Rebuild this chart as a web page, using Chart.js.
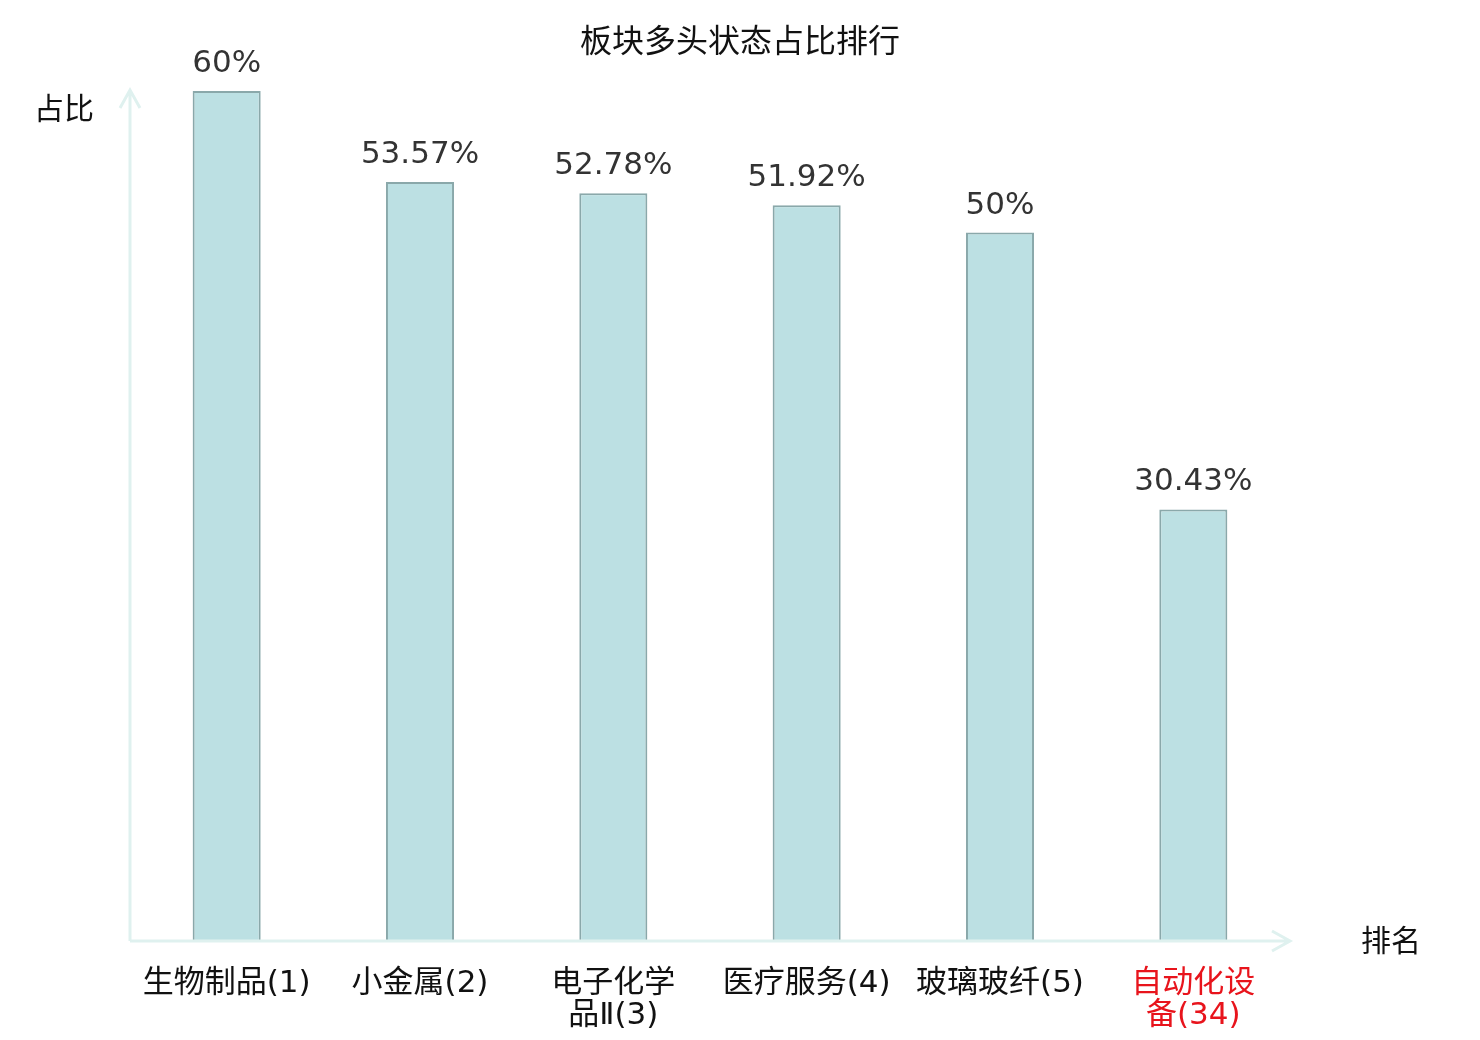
<!DOCTYPE html>
<html>
<head>
<meta charset="utf-8">
<script src="https://cdn.jsdelivr.net/npm/chart.js@4/dist/chart.umd.min.js"></script>
<style>
  body { margin: 0; background: #fff; }
  canvas { display: block; }
</style>
</head>
<body>
<canvas id="rankChart" width="1480" height="1040"></canvas>
<script>
const CATEGORIES = ['生物制品(1)', '小金属(2)', '电子化学品Ⅱ(3)', '医疗服务(4)', '玻璃玻纤(5)', '自动化设备(34)'];
const SHARE = [60, 53.57, 52.78, 51.92, 50, 30.43];
const HIGHLIGHT = ['自动化设备(34)'];

const FONT = "'DejaVu Sans', 'Noto Sans CJK SC', sans-serif";
const AXIS_COLOR = '#dff1ef';

// long names wrap after 4 chars like the original
const wrap = s => s.length > 8 ? [s.slice(0, 4), s.slice(4)] : s;

const decorations = {
  id: 'decorations',
  afterDatasetsDraw(chart) {
    const { ctx, chartArea: a } = chart;
    ctx.save();

    // axes with arrow heads
    ctx.strokeStyle = AXIS_COLOR;
    ctx.lineWidth = 3;
    ctx.beginPath();
    ctx.moveTo(a.left, a.bottom + 1);
    ctx.lineTo(a.left, a.top - 1);
    ctx.moveTo(a.left - 10, a.top + 17);
    ctx.lineTo(a.left, a.top - 1);
    ctx.lineTo(a.left + 10, a.top + 17);
    ctx.moveTo(a.left, a.bottom + 1);
    ctx.lineTo(a.right, a.bottom + 1);
    ctx.moveTo(a.right - 18, a.bottom - 9);
    ctx.lineTo(a.right, a.bottom + 1);
    ctx.lineTo(a.right - 18, a.bottom + 11);
    ctx.stroke();

    // value labels
    ctx.fillStyle = '#333';
    ctx.font = '31px ' + FONT;
    ctx.textAlign = 'center';
    ctx.textBaseline = 'alphabetic';
    chart.getDatasetMeta(0).data.forEach((bar, i) => {
      ctx.fillText(SHARE[i] + '%', bar.x, bar.y - 19);
    });

    // title and axis names
    ctx.fillStyle = '#111';
    ctx.textBaseline = 'middle';
    ctx.font = '32px ' + FONT;
    ctx.fillText('板块多头状态占比排行', 740, 44);
    ctx.font = '30px ' + FONT;
    ctx.textAlign = 'left';
    ctx.fillText('占比', 34, 111);
    ctx.fillText('排名', 1361, 943);
    ctx.restore();
  }
};

new Chart(document.getElementById('rankChart'), {
  type: 'bar',
  data: {
    labels: CATEGORIES.map(wrap),
    datasets: [{
      data: SHARE,
      backgroundColor: '#bce0e3',
      borderColor: '#8aa8aa',
      borderWidth: 2,
      barPercentage: 0.352,
      categoryPercentage: 1
    }]
  },
  options: {
    responsive: false,
    devicePixelRatio: 1,
    animation: false,
    layout: { padding: { left: 130, right: 190, top: 91, bottom: 0 } },
    plugins: {
      legend: { display: false },
      tooltip: { enabled: false },
      title: { display: false }
    },
    scales: {
      x: {
        grid: { display: false },
        border: { display: false },
        ticks: {
          color: ctx => HIGHLIGHT.includes(CATEGORIES[ctx.index]) ? '#e8141c' : '#111',
          font: { size: 31, family: FONT, lineHeight: 1.04 },
          padding: 20,
          maxRotation: 0,
          autoSkip: false
        },
        afterFit: scale => { scale.height = 100; }
      },
      y: {
        display: false,
        min: 0,
        max: 60
      }
    }
  },
  plugins: [decorations]
});
</script>
</body>
</html>
